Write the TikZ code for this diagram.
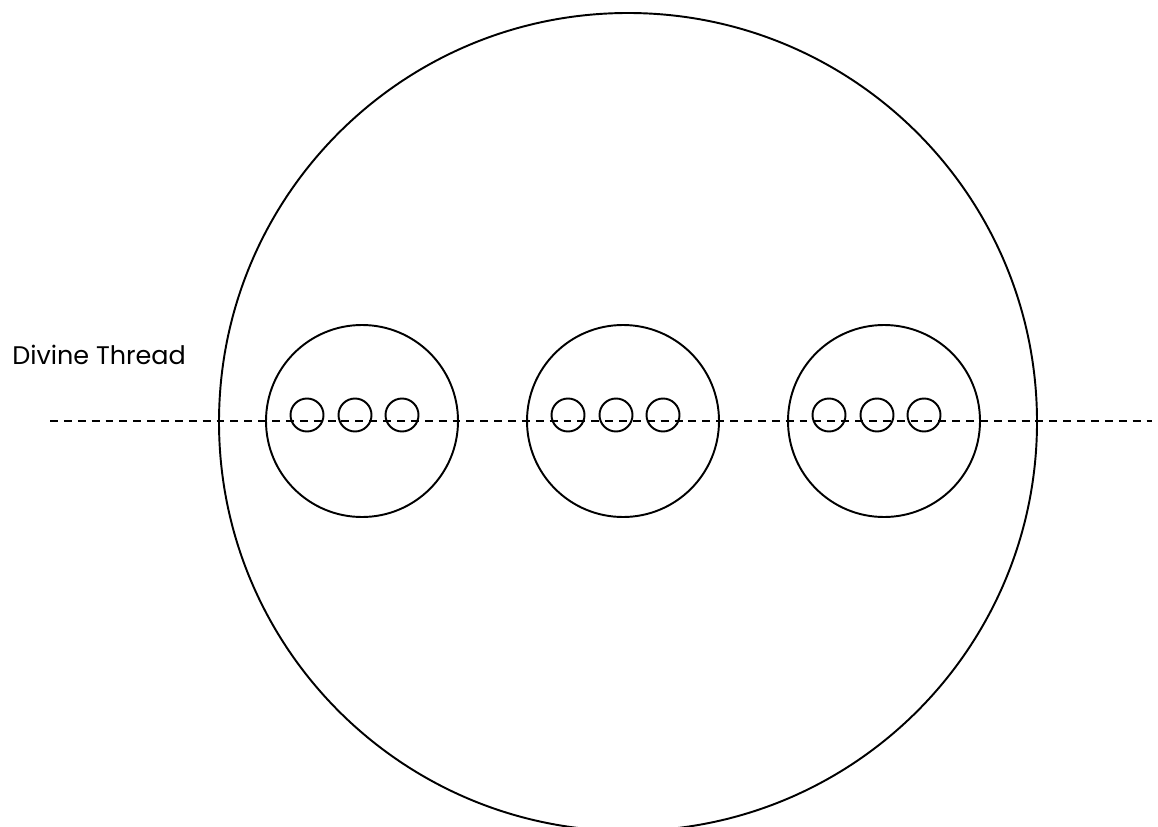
\documentclass[tikz,border=0pt]{standalone}
\usepackage{fontspec}
\setmainfont{Poppins}
\usepackage{tikz}
\tikzset{
  ring/.style={draw=black, line width=1.1pt},
  seed/.style={draw=black, line width=1.1pt},
  thread/.style={draw=black, line width=1.1pt, dash pattern=on 4.5pt off 3.4pt},
  tlabel/.style={font=\fontsize{14.5}{16}\selectfont, anchor=base west, inner sep=0pt},
}

\begin{document}
\begin{tikzpicture}[x=0.02cm, y=0.02cm]
  \useasboundingbox (0,0) rectangle (1158,-827);
  % outer world
  \draw[ring] (628,-422) circle (409);
  % three inner worlds, each with three seeds
  \foreach \cx in {362,623,884} {
    \draw[ring] (\cx,-421) circle (96);
    \foreach \dx in {-55,-7,40}
      \draw[seed] (\cx+\dx,-415) circle (16.5);
  }
  % the thread through all of them
  \coordinate (tstart) at (50,-421);
  \coordinate (tend) at (1152,-421);
  \draw[thread] (tstart) -- (tend);
  \node[tlabel] (lbl) at (12,-364) {Divine Thread};
\end{tikzpicture}
\end{document}
